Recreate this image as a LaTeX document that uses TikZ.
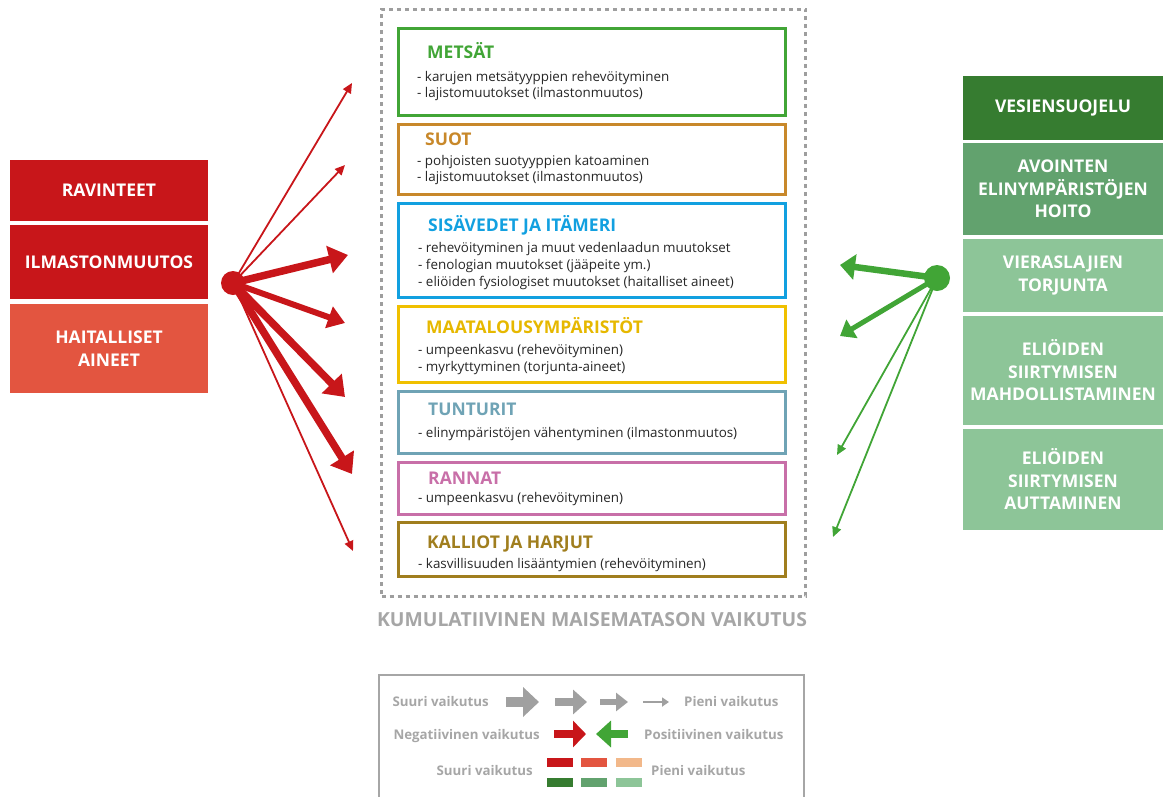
\documentclass[tikz,border=0pt]{standalone}
\usepackage{fontspec}
\setmainfont{Open Sans}
\usetikzlibrary{arrows.meta}
\definecolor{dred}{HTML}{C8161A}
\definecolor{mred}{HTML}{E35540}
\definecolor{lred}{HTML}{F2B88A}
\definecolor{dgreen}{HTML}{367C30}
\definecolor{mgreen}{HTML}{62A26E}
\definecolor{lgreen}{HTML}{8DC598}
\definecolor{agreen}{HTML}{41A536}
\definecolor{cmets}{HTML}{41A536}
\definecolor{csuot}{HTML}{C8882A}
\definecolor{csisa}{HTML}{12A0E0}
\definecolor{cmaat}{HTML}{F0C000}
\definecolor{cmaatt}{HTML}{E6B800}
\definecolor{ctunt}{HTML}{6FA3B5}
\definecolor{crann}{HTML}{C86FA8}
\definecolor{ckall}{HTML}{A07E1E}
\definecolor{lgray}{HTML}{A6A6A6}
\definecolor{dashgray}{HTML}{9E9E9E}
\definecolor{agray}{HTML}{A0A0A0}
\definecolor{txt}{HTML}{262626}
\tikzset{
  sidebox/.style={fill=#1, draw=none, inner sep=0, minimum width=198pt, text=white,
    font=\bfseries\fontsize{17.5}{22.5}\selectfont, align=center},
  rsidebox/.style={sidebox=#1, minimum width=200pt},
  hab/.style={draw=#1, line width=3pt, minimum width=387pt, inner sep=0},
  ttl/.style={font=\bfseries\fontsize{17.5}{20}\selectfont, inner sep=0, anchor=base west},
  bul/.style={font=\fontsize{13.4}{15}\selectfont, text=txt, inner sep=0, anchor=base west},
  leg/.style={font=\bfseries\fontsize{13.3}{16}\selectfont, text=lgray, inner sep=0},
  thinA/.style={line width=1.8pt, -{Triangle[length=10pt,width=9pt]}},
  medA/.style={line width=6pt, -{Triangle[length=17pt,width=22pt]}},
  thickA/.style={line width=7.5pt, -{Triangle[length=19pt,width=27pt]}},
  rthickA/.style={line width=6.5pt, -{Triangle[length=15pt,width=25pt]}},
  rmedA/.style={line width=5pt, -{Triangle[length=14pt,width=21pt]}},
}
\begin{document}
\begin{tikzpicture}[x=1pt,y=-1pt]
\useasboundingbox (0,0) rectangle (1163,796);

% left pressure boxes
\node[sidebox=dred, minimum height=61pt] (ravinteet) at (109,190.5) {RAVINTEET};
\node[sidebox=dred, minimum height=74pt] (ilmasto) at (109,262) {ILMASTONMUUTOS};
\node[sidebox=mred, minimum height=89pt] (haitall) at (109,348.5) {HAITALLISET\\AINEET};

% right measure boxes
\node[rsidebox=dgreen, minimum height=64pt] (vesi) at (1063,108) {VESIENSUOJELU};
\node[rsidebox=mgreen, minimum height=92pt] (avoin) at (1063,189) {AVOINTEN\\ELINYMPÄRISTÖJEN\\HOITO};
\node[rsidebox=lgreen, minimum height=73pt] (vieras) at (1063,275.5) {VIERASLAJIEN\\TORJUNTA};
\node[rsidebox=lgreen, minimum height=109pt] (mahd) at (1063,370.5) {ELIÖIDEN\\SIIRTYMISEN\\MAHDOLLISTAMINEN};
\node[rsidebox=lgreen, minimum height=101pt] (autt) at (1063,479.5) {ELIÖIDEN\\SIIRTYMISEN\\AUTTAMINEN};

% cumulative dashed frame
\node[draw=dashgray, line width=3pt, dash pattern=on 4pt off 4pt, inner sep=0,
  minimum width=424pt, minimum height=587pt] (kumul) at (593.5,302.5) {};
\node[font=\bfseries\fontsize{19.4}{22}\selectfont, text=lgray, inner sep=0, anchor=base] (kumulT) at (592,626.5) {KUMULATIIVINEN MAISEMATASON VAIKUTUS};

% habitat boxes
\node[hab=cmets, minimum height=87pt] (metsat) at (592,72) {};
\node[hab=csuot, minimum height=70pt] (suot) at (592,159.5) {};
\node[hab=csisa, minimum height=94pt] (sisa) at (592,250.5) {};
\node[hab=cmaat, minimum height=76pt] (maat) at (592,344.5) {};
\node[hab=ctunt, minimum height=62pt] (tunt) at (592,422.5) {};
\node[hab=crann, minimum height=52pt] (rann) at (592,488.5) {};
\node[hab=ckall, minimum height=54pt] (kall) at (592,549.5) {};

\node[ttl, text=cmets] (metsatT) at (427,58) {METSÄT};
\node[bul] (metsat1) at (417,81) {- karujen metsätyyppien rehevöityminen};
\node[bul] (metsat2) at (417,97.5) {- lajistomuutokset (ilmastonmuutos)};

\node[ttl, text=csuot] (suotT) at (425,145.7) {SUOT};
\node[bul] (suot1) at (417,165) {- pohjoisten suotyyppien katoaminen};
\node[bul] (suot2) at (417,181.7) {- lajistomuutokset (ilmastonmuutos)};

\node[ttl, text=csisa] (sisaT) at (428,231.7) {SISÄVEDET JA ITÄMERI};
\node[bul] (sisa1) at (418,252.3) {- rehevöityminen ja muut vedenlaadun muutokset};
\node[bul] (sisa2) at (418,269.3) {- fenologian muutokset (jääpeite ym.)};
\node[bul] (sisa3) at (418,286) {- eliöiden fysiologiset muutokset (haitalliset aineet)};

\node[ttl, text=cmaatt] (maatT) at (426,333.3) {MAATALOUSYMPÄRISTÖT};
\node[bul] (maat1) at (418,354.3) {- umpeenkasvu (rehevöityminen)};
\node[bul] (maat2) at (418,371) {- myrkyttyminen (torjunta-aineet)};

\node[ttl, text=ctunt] (tuntT) at (428,415.7) {TUNTURIT};
\node[bul] (tunt1) at (418,437.3) {- elinympäristöjen vähentyminen (ilmastonmuutos)};

\node[ttl, text=crann] (rannT) at (428,484) {RANNAT};
\node[bul] (rann1) at (418,502.3) {- umpeenkasvu (rehevöityminen)};

\node[ttl, text=ckall] (kallT) at (427,548.7) {KALLIOT JA HARJUT};
\node[bul] (kall1) at (418,568.3) {- kasvillisuuden lisääntymien (rehevöityminen)};

% left hub and arrows
\node[circle, fill=dred, inner sep=0, minimum size=24pt] (lhub) at (233,283) {};
\coordinate (l1) at (352,83);
\coordinate (l2) at (345,165);
\coordinate (l3) at (348,255);
\coordinate (l4) at (345,323);
\coordinate (l5) at (345,397);
\coordinate (l6) at (352,474);
\coordinate (l7) at (353,551);
\draw[dred, thinA] (lhub.center) -- (l1);
\draw[dred, thinA] (lhub.center) -- (l2);
\draw[dred, thickA] (lhub.center) -- (l3);
\draw[dred, medA] (lhub.center) -- (l4);
\draw[dred, thickA] (lhub.center) -- (l5);
\draw[dred, thickA] (lhub.center) -- (l6);
\draw[dred, thinA] (lhub.center) -- (l7);

% right hub and arrows
\node[circle, fill=agreen, inner sep=0, minimum size=26pt] (rhub) at (937,278) {};
\coordinate (r1) at (840,265);
\coordinate (r2) at (840,336);
\coordinate (r3) at (837,455);
\coordinate (r4) at (833,537);
\draw[agreen, rthickA] (rhub.center) -- (r1);
\draw[agreen, rmedA] (rhub.center) -- (r2);
\draw[agreen, thinA] (rhub.center) -- (r3);
\draw[agreen, thinA] (rhub.center) -- (r4);

% legend
\node[draw=lgray, line width=2pt, inner sep=0, minimum width=425pt, minimum height=130pt] (legend) at (591.5,740) {};
\node[leg, anchor=base east] (lg1a) at (489,706.7) {Suuri vaikutus};
\node[leg, anchor=base west] (lg1b) at (684,706.7) {Pieni vaikutus};
\node[leg, anchor=base east] (lg2a) at (540,739) {Negatiivinen vaikutus};
\node[leg, anchor=base west] (lg2b) at (644,739) {Positiivinen vaikutus};
\node[leg, anchor=base east] (lg3a) at (533,775) {Suuri vaikutus};
\node[leg, anchor=base west] (lg3b) at (651,775) {Pieni vaikutus};

\coordinate (ga1) at (506,702); \coordinate (gb1) at (539,702);
\coordinate (ga2) at (555,702); \coordinate (gb2) at (587,702);
\coordinate (ga3) at (600,702); \coordinate (gb3) at (628,702);
\coordinate (ga4) at (643,702); \coordinate (gb4) at (669,702);
\draw[agray, line width=10.5pt, -{Triangle[length=16pt,width=29pt]}] (ga1) -- (gb1);
\draw[agray, line width=7.5pt, -{Triangle[length=14pt,width=24pt]}] (ga2) -- (gb2);
\draw[agray, line width=5.5pt, -{Triangle[length=12pt,width=18pt]}] (ga3) -- (gb3);
\draw[agray, line width=1.8pt, -{Triangle[length=7pt,width=9pt]}] (ga4) -- (gb4);

\coordinate (ra) at (554,734); \coordinate (rb) at (586,734);
\coordinate (gra) at (628,734); \coordinate (grb) at (596,734);
\draw[dred, line width=8pt, -{Triangle[length=13pt,width=26pt]}] (ra) -- (rb);
\draw[agreen, line width=8pt, -{Triangle[length=15pt,width=26pt]}] (gra) -- (grb);

\fill[dred] (547,758) rectangle (573,767);
\fill[mred] (581,758) rectangle (607,767);
\fill[lred] (616,758) rectangle (642,767);
\fill[dgreen] (547,778) rectangle (573,787);
\fill[mgreen] (581,778) rectangle (607,787);
\fill[lgreen] (616,778) rectangle (642,787);
\end{tikzpicture}
\end{document}
